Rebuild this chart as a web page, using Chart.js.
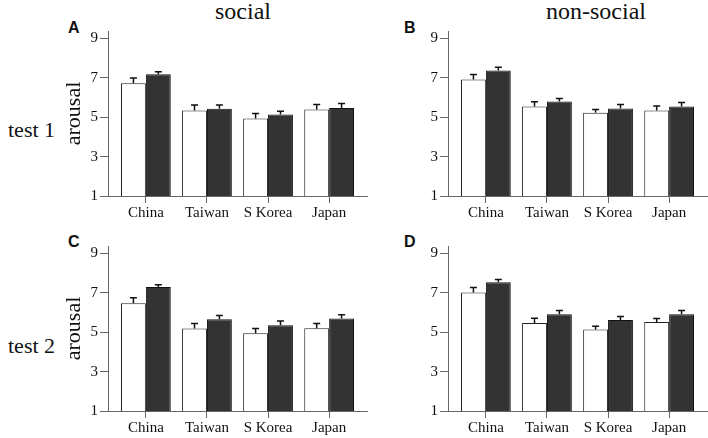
<!DOCTYPE html>
<html lang="en">
<head>
<meta charset="UTF-8">
<title>Arousal by country</title>
<script src="https://cdn.jsdelivr.net/npm/chart.js"></script>
<style>
  body { margin: 0; width: 708px; height: 438px; overflow: hidden; background: #fff; position: relative; font-family: "Liberation Serif", serif; color: #111; }
  canvas { position: absolute; }
  .txt { position: absolute; white-space: nowrap; }
  .head { font-size: 24px; line-height: 24px; top: -1px; transform: translateX(-50%); }
  .row { font-size: 22px; line-height: 22px; left: 8px; }
  .tag { font-family: "Liberation Sans", Arial, sans-serif; font-weight: bold; font-size: 16px; line-height: 16px; }
</style>
</head>
<body>
  <div class="txt head" style="left:243px">social</div>
  <div class="txt head" style="left:596px">non-social</div>
  <div class="txt row" style="top:119px">test 1</div>
  <div class="txt row" style="top:335px">test 2</div>
  <div class="txt tag" style="left:68px;top:20px">A</div>
  <div class="txt tag" style="left:404px;top:20px">B</div>
  <div class="txt tag" style="left:68px;top:234px">C</div>
  <div class="txt tag" style="left:404px;top:234px">D</div>

  <canvas id="chartA" width="314" height="222" style="left:56px;top:0"></canvas>
  <canvas id="chartB" width="308" height="222" style="left:400px;top:0"></canvas>
  <canvas id="chartC" width="314" height="222" style="left:56px;top:215px"></canvas>
  <canvas id="chartD" width="308" height="222" style="left:400px;top:215px"></canvas>

<script>
  const countries = ['China', 'Taiwan', 'S Korea', 'Japan'];
  const yTicks = [1, 3, 5, 7, 9];

  // A: social, test 1
  const aWhite = [6.72, 5.34, 4.93, 5.39];
  const aWhiteErr = [0.27, 0.28, 0.26, 0.25];
  const aDark = [7.18, 5.42, 5.14, 5.46];
  const aDarkErr = [0.12, 0.20, 0.16, 0.23];

  // B: non-social, test 1
  const bWhite = [6.91, 5.54, 5.22, 5.34];
  const bWhiteErr = [0.25, 0.24, 0.17, 0.23];
  const bDark = [7.36, 5.79, 5.44, 5.54];
  const bDarkErr = [0.17, 0.16, 0.20, 0.20];

  // C: social, test 2
  const cWhite = [6.47, 5.19, 4.95, 5.20];
  const cWhiteErr = [0.27, 0.25, 0.24, 0.24];
  const cDark = [7.29, 5.66, 5.35, 5.69];
  const cDarkErr = [0.12, 0.19, 0.21, 0.19];

  // D: non-social, test 2
  const dWhite = [7.01, 5.47, 5.14, 5.52];
  const dWhiteErr = [0.25, 0.24, 0.16, 0.17];
  const dDark = [7.53, 5.91, 5.61, 5.91];
  const dDarkErr = [0.14, 0.19, 0.18, 0.19];

  const axisColor = '#666';
  const textColor = '#111';
  Chart.defaults.font.family = "'Liberation Serif', serif";

  // only the upper half of the error bar, as in the figure
  const errorBars = {
    id: 'errorBars',
    afterDatasetsDraw(chart) {
      const ctx = chart.ctx;
      const yScale = chart.scales.y;
      ctx.save();
      ctx.strokeStyle = '#111';
      ctx.lineWidth = 1.5;
      chart.data.datasets.forEach((ds, i) => {
        chart.getDatasetMeta(i).data.forEach((bar, j) => {
          const top = yScale.getPixelForValue(ds.data[j].y + ds.errors[j]);
          ctx.beginPath();
          ctx.moveTo(bar.x, bar.y);
          ctx.lineTo(bar.x, top);
          ctx.moveTo(bar.x - 3.5, top);
          ctx.lineTo(bar.x + 3.5, top);
          ctx.stroke();
        });
      });
      ctx.restore();
    }
  };

  function points(values) {
    return values.map((v, i) => ({ x: i + 1, y: v }));
  }

  function makeChart(id, white, whiteErr, dark, darkErr, showTitle, yWidth, padRight) {
    new Chart(document.getElementById(id), {
      type: 'bar',
      data: {
        datasets: [{
          data: points(white),
          errors: whiteErr,
          backgroundColor: '#ffffff',
          borderColor: '#222',
          borderWidth: 1
        }, {
          data: points(dark),
          errors: darkErr,
          backgroundColor: '#333333',
          borderColor: '#111',
          borderWidth: 1
        }]
      },
      options: {
        responsive: false,
        animation: false,
        layout: { padding: { top: 31, right: padRight, left: 0, bottom: 0 } },
        datasets: { bar: { categoryPercentage: 0.815, barPercentage: 1 } },
        plugins: { legend: { display: false }, tooltip: { enabled: false } },
        scales: {
          x: {
            type: 'linear',
            min: 0.38,
            max: 4.62,
            offset: false,
            afterBuildTicks: s => { s.ticks = countries.map((c, i) => ({ value: i + 1 })); },
            afterFit: s => { s.height = 26; },
            grid: { drawOnChartArea: false, drawTicks: true, tickLength: 7, color: axisColor, offset: false },
            border: { color: axisColor, width: 1 },
            ticks: {
              callback: v => countries[v - 1],
              color: textColor,
              font: { size: 15 },
              padding: 1,
              maxRotation: 0,
              autoSkip: false
            }
          },
          y: {
            min: 1,
            max: 9.37,
            afterBuildTicks: s => { s.ticks = yTicks.map(v => ({ value: v })); },
            afterFit: s => { s.width = yWidth; },
            grid: { drawOnChartArea: false, drawTicks: true, tickLength: 8, color: axisColor },
            border: { color: axisColor, width: 1 },
            ticks: { color: textColor, font: { size: 15 }, padding: 2 },
            title: {
              display: showTitle,
              text: 'arousal',
              color: textColor,
              font: { size: 22 },
              padding: { top: 5, bottom: 0 }
            }
          }
        }
      },
      plugins: [errorBars]
    });
  }

  makeChart('chartA', aWhite, aWhiteErr, aDark, aDarkErr, true, 52, 3);
  makeChart('chartB', bWhite, bWhiteErr, bDark, bDarkErr, false, 48, 1);
  makeChart('chartC', cWhite, cWhiteErr, cDark, cDarkErr, true, 52, 3);
  makeChart('chartD', dWhite, dWhiteErr, dDark, dDarkErr, false, 48, 1);
</script>
</body>
</html>
